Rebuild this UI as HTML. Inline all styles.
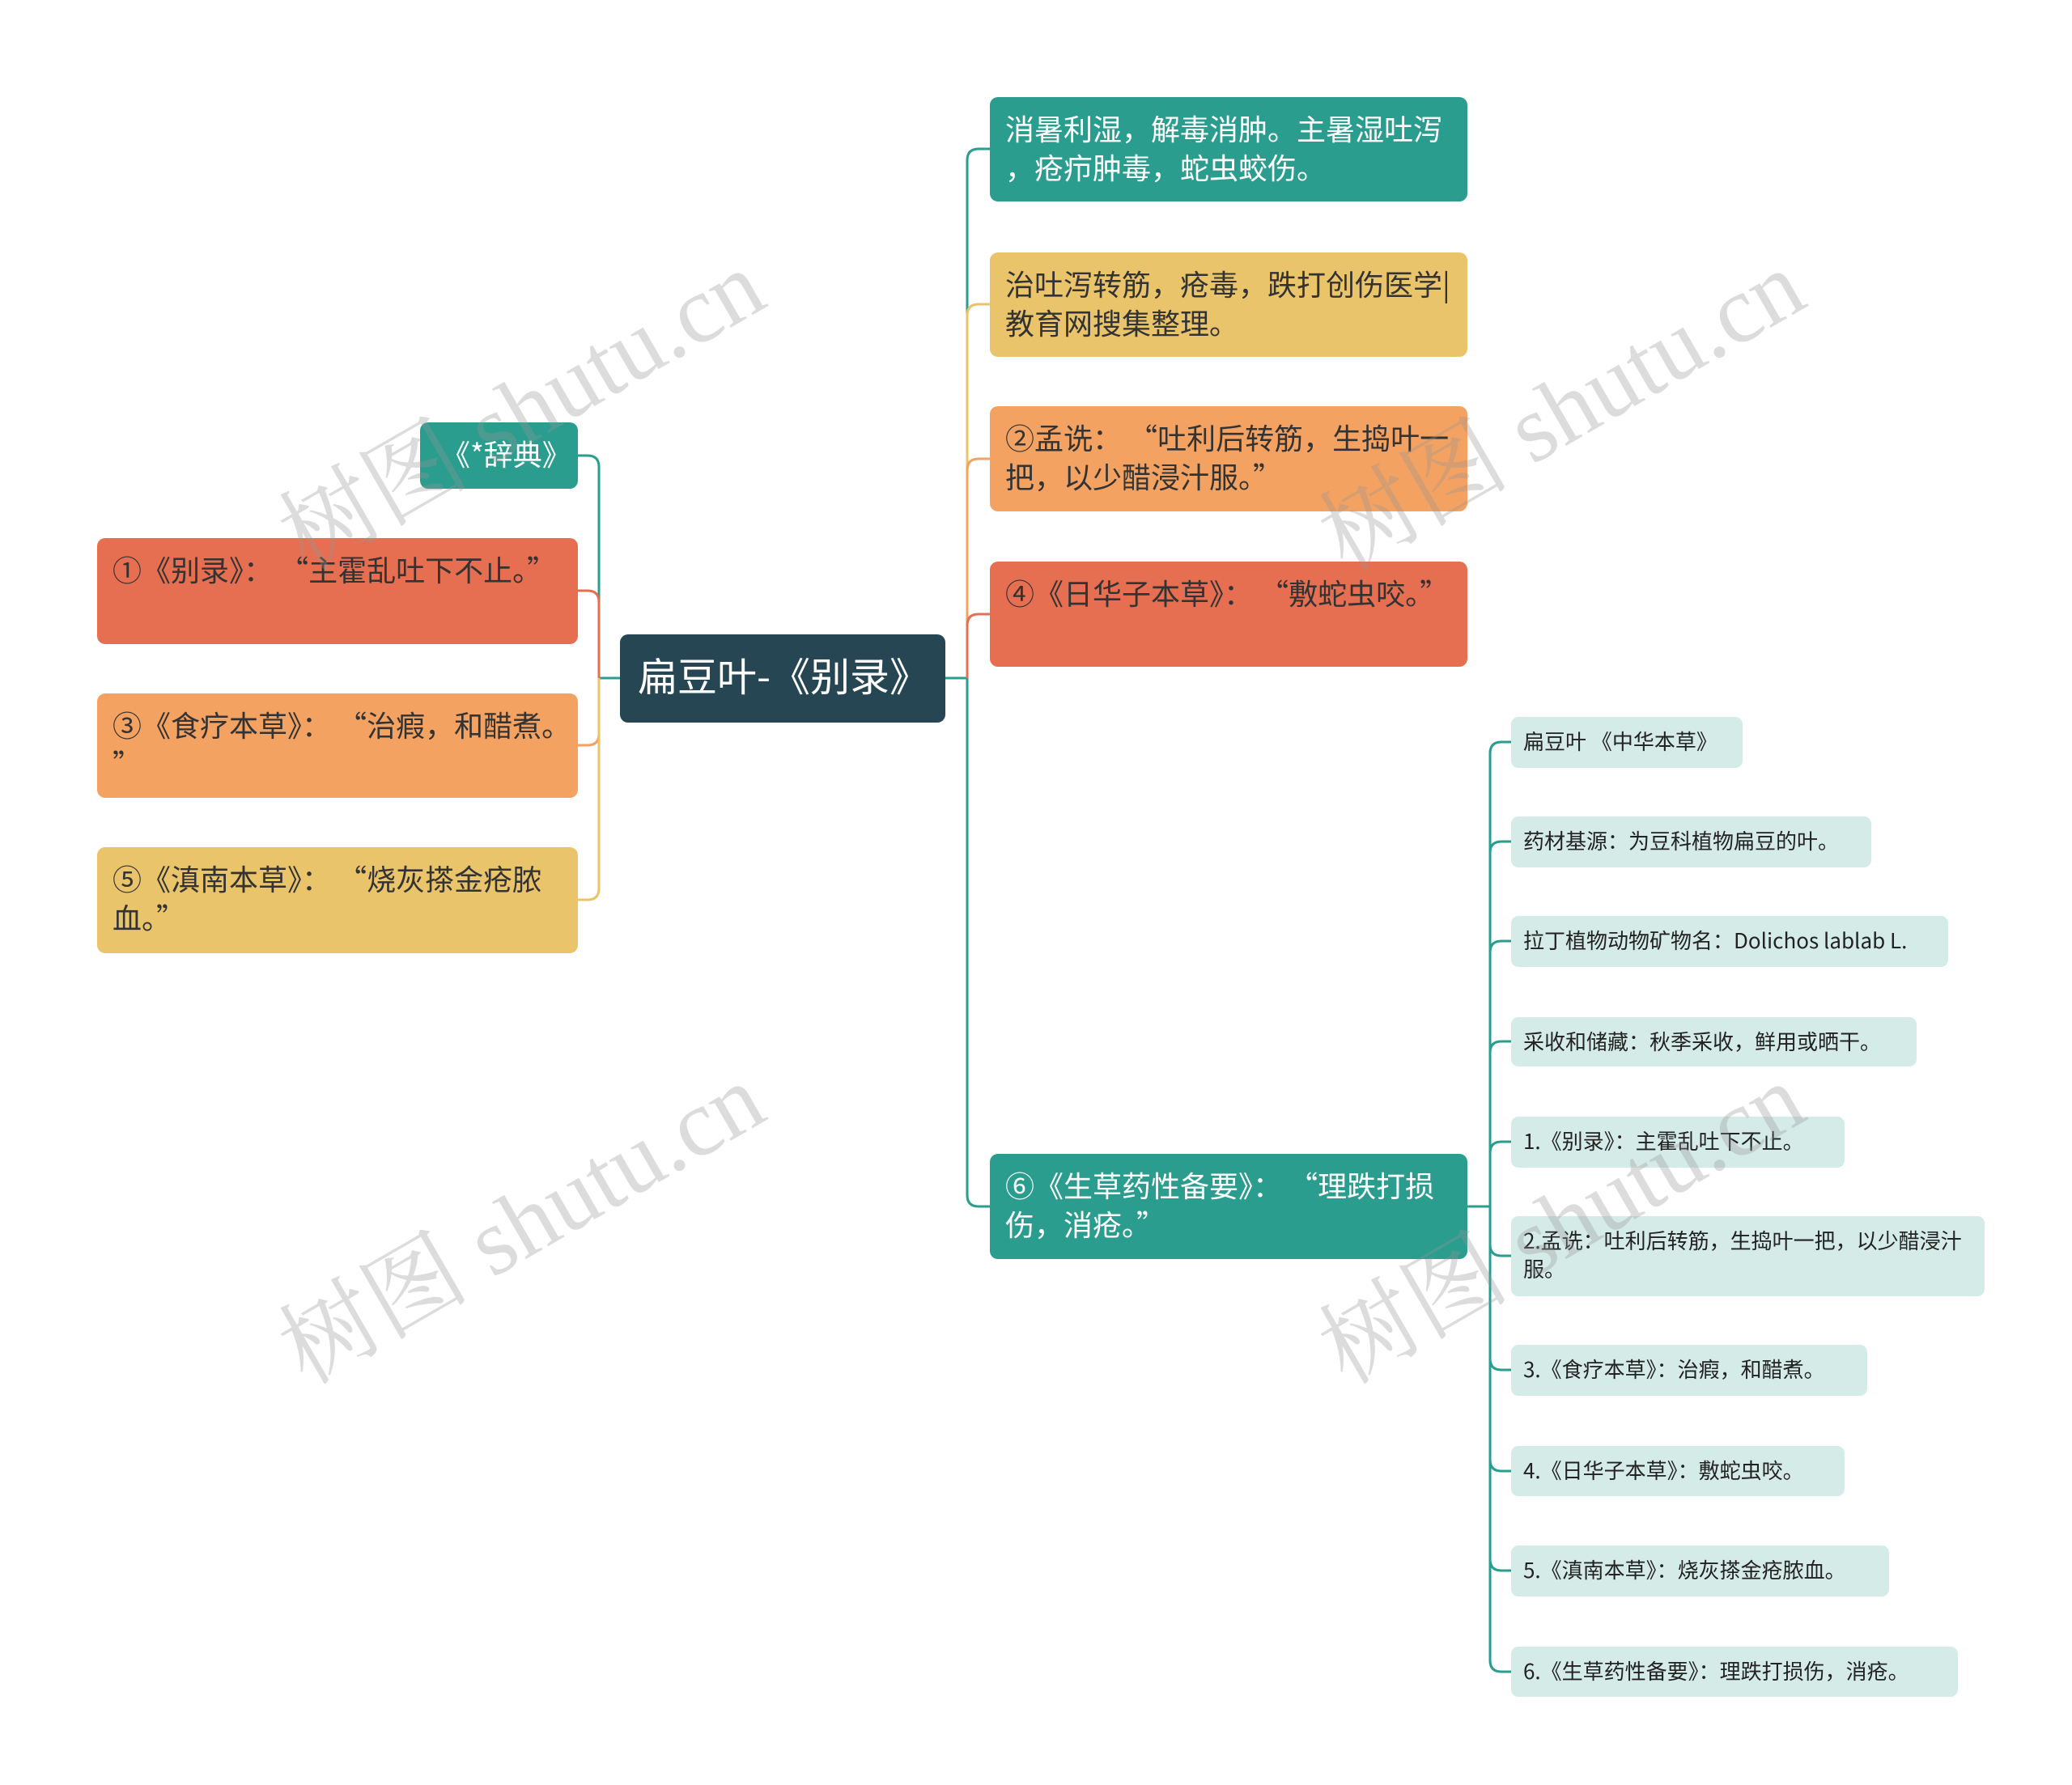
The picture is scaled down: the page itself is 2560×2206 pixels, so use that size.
<!DOCTYPE html>
<html><head><meta charset="utf-8"><style>
body{margin:0;width:2560px;height:2206px;background:#fff;position:relative;overflow:hidden;font-family:"Noto Sans CJK SC","Liberation Sans",sans-serif}
.n{position:absolute;box-sizing:border-box;border-radius:10px;color:#333;font-size:36px;line-height:48px;padding:14px 12px 0 19px;word-break:break-all;line-break:anywhere}
.s{position:absolute;box-sizing:border-box;border-radius:9px;background:#d5ebe7;color:#222;font-size:26px;line-height:35px;padding:12px 8px 0 15px;word-break:break-all;line-break:anywhere}
.t{background:#2a9d8f;color:#fff}.y{background:#e9c46a}.o{background:#f4a261}.r{background:#e76f51}
.wm{position:absolute;font-size:118px;color:rgba(150,150,150,0.33);transform:rotate(-30deg);transform-origin:left top;white-space:nowrap;font-family:"Liberation Serif","Noto Serif CJK SC",serif}
</style></head><body>
<svg width="2560" height="2206" style="position:absolute;left:0;top:0" fill="none" stroke-width="3">
<path d="M766 838H740" stroke="#2a9d8f"/>
<path d="M740 838V577Q740 563 726 563H714" stroke="#2a9d8f"/>
<path d="M740 838V744Q740 730 726 730H714" stroke="#e76f51"/>
<path d="M740 838V907Q740 921 726 921H714" stroke="#f4a261"/>
<path d="M740 838V1098Q740 1112 726 1112H714" stroke="#e9c46a"/>
<path d="M1168 838H1195" stroke="#2a9d8f"/>
<path d="M1195 838V198Q1195 184 1209 184H1223" stroke="#2a9d8f"/>
<path d="M1195 838V390Q1195 376 1209 376H1223" stroke="#e9c46a"/>
<path d="M1195 838V581Q1195 567 1209 567H1223" stroke="#f4a261"/>
<path d="M1195 838V773Q1195 759 1209 759H1223" stroke="#e76f51"/>
<path d="M1195 838V1477Q1195 1491 1209 1491H1223" stroke="#2a9d8f"/>
<g stroke="#2a9d8f">
<path d="M1813 1491H1841"/>
<path d="M1841 1491V931Q1841 917 1855 917H1867"/>
<path d="M1841 1491V1054Q1841 1040 1855 1040H1867"/>
<path d="M1841 1491V1177Q1841 1163 1855 1163H1867"/>
<path d="M1841 1491V1301Q1841 1287 1855 1287H1867"/>
<path d="M1841 1491V1425Q1841 1411 1855 1411H1867"/>
<path d="M1841 1491V1538Q1841 1552 1855 1552H1867"/>
<path d="M1841 1491V1679Q1841 1693 1855 1693H1867"/>
<path d="M1841 1491V1804Q1841 1818 1855 1818H1867"/>
<path d="M1841 1491V1927Q1841 1941 1855 1941H1867"/>
<path d="M1841 1491V2052Q1841 2066 1855 2066H1867"/>
</g>
</svg>
<div class="n" style="left:766px;top:784px;width:402px;height:109px;background:#264653;color:#fff;font-size:49px;line-height:60px;padding:20px 0 0 22px">扁豆叶-《别录》</div>
<div class="n t" style="left:519px;top:522px;width:195px;height:82px;padding:14px 0 0 26px">《*辞典》</div>
<div class="n r" style="left:120px;top:665px;width:594px;height:131px">①《别录》：&nbsp;“主霍乱吐下不止。”</div>
<div class="n o" style="left:120px;top:857px;width:594px;height:129px">③《食疗本草》：&nbsp;“治瘕，和醋煮。”</div>
<div class="n y" style="left:120px;top:1047px;width:594px;height:131px">⑤《滇南本草》：&nbsp;“烧灰搽金疮脓血。”</div>
<div class="n t" style="left:1223px;top:120px;width:590px;height:129px">消暑利湿，解毒消肿。主暑湿吐泻，疮疖肿毒，蛇虫蛟伤。</div>
<div class="n y" style="left:1223px;top:312px;width:590px;height:129px">治吐泻转筋，疮毒，跌打创伤医学|教育网搜集整理。</div>
<div class="n o" style="left:1223px;top:502px;width:590px;height:130px">②孟诜：&nbsp;“吐利后转筋，生捣叶一把，以少醋浸汁服。”</div>
<div class="n r" style="left:1223px;top:694px;width:590px;height:130px">④《日华子本草》：&nbsp;“敷蛇虫咬。”</div>
<div class="n t" style="left:1223px;top:1426px;width:590px;height:130px">⑥《生草药性备要》：&nbsp;“理跌打损伤，消疮。”</div>
<div class="s" style="left:1867px;top:886px;width:286px;height:63px">扁豆叶 《中华本草》</div>
<div class="s" style="left:1867px;top:1009px;width:445px;height:63px">药材基源：为豆科植物扁豆的叶。</div>
<div class="s" style="left:1867px;top:1132px;width:540px;height:63px">拉丁植物动物矿物名：Dolichos lablab L.</div>
<div class="s" style="left:1867px;top:1257px;width:501px;height:61px">采收和储藏：秋季采收，鲜用或晒干。</div>
<div class="s" style="left:1867px;top:1380px;width:412px;height:63px">1.《别录》：主霍乱吐下不止。</div>
<div class="s" style="left:1867px;top:1503px;width:585px;height:99px">2.孟诜：吐利后转筋，生捣叶一把，以少醋浸汁服。</div>
<div class="s" style="left:1867px;top:1662px;width:440px;height:63px">3.《食疗本草》：治瘕，和醋煮。</div>
<div class="s" style="left:1867px;top:1787px;width:412px;height:62px">4.《日华子本草》：敷蛇虫咬。</div>
<div class="s" style="left:1867px;top:1910px;width:467px;height:63px">5.《滇南本草》：烧灰搽金疮脓血。</div>
<div class="s" style="left:1867px;top:2035px;width:552px;height:62px">6.《生草药性备要》：理跌打损伤，消疮。</div>
<div class="wm" style="left:310px;top:590px">树图 shutu.cn</div>
<div class="wm" style="left:1595px;top:590px">树图 shutu.cn</div>
<div class="wm" style="left:310px;top:1595px">树图 shutu.cn</div>
<div class="wm" style="left:1595px;top:1595px">树图 shutu.cn</div>
</body></html>
